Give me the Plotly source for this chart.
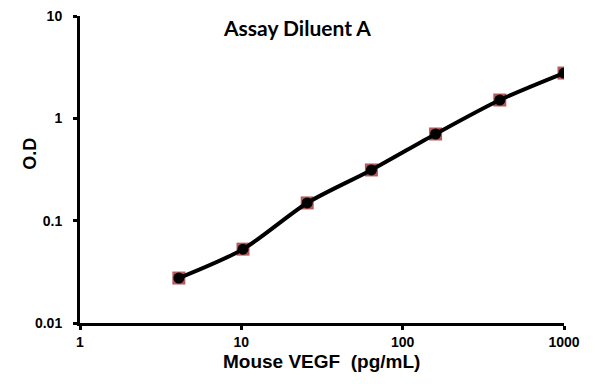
import plotly.graph_objects as go

conc = [4.1, 10.24, 25.6, 64, 160, 400, 1000]
od = [0.0275, 0.0527, 0.149, 0.313, 0.703, 1.51, 2.77]
x_ticks = [1, 10, 100, 1000]
y_ticks = [0.01, 0.1, 1, 10]

fig = go.Figure()
fig.add_trace(go.Scatter(x=conc, y=od, mode="markers",
                         marker=dict(symbol="square", size=13, color="#b55a5a",
                                     line=dict(width=0)),
                         showlegend=False, hoverinfo="skip"))
fig.add_trace(go.Scatter(x=conc, y=od, mode="lines+markers",
                         line=dict(color="black", width=4, shape="spline", smoothing=0.8),
                         marker=dict(symbol="circle", size=11, color="black"),
                         showlegend=False))

axis_font = dict(family="Liberation Sans, Arial", size=14, color="black")
title_font = dict(family="Liberation Sans, Arial", size=19, color="black")
# the page body adds an 8px offset, so the figure is 8px smaller and margins shifted
fig.update_layout(
    width=587, height=376,
    margin=dict(l=72, r=31, t=8, b=61, autoexpand=False),
    paper_bgcolor="white", plot_bgcolor="white",
    xaxis=dict(type="log", range=[0, 3], tickvals=x_ticks, ticktext=[f"<b>{v}</b>" for v in x_ticks],
               showgrid=False, zeroline=False, showline=True, linecolor="black", linewidth=3,
               ticks="outside", ticklen=4, tickwidth=3, tickcolor="black", tickfont=axis_font,
               ticklabeloverflow="allow", automargin=False),
    yaxis=dict(type="log", range=[-2, 1], tickvals=y_ticks, ticktext=[f"<b>{v}</b>" for v in y_ticks],
               showgrid=False, zeroline=False, showline=True, linecolor="black", linewidth=3,
               ticks="outside", ticklen=4, tickwidth=3, tickcolor="black", tickfont=axis_font,
               ticklabelstandoff=8, ticklabeloverflow="allow", automargin=False),
    annotations=[
        dict(text="<b>Assay Diluent A</b>", x=0.449, y=0.961, xref="paper", yref="paper",
             xanchor="center", yanchor="middle", showarrow=False,
             font=dict(family="Lato, Carlito, sans-serif", size=21, color="black")),
        dict(text="<b>Mouse VEGF&nbsp; (pg/mL)</b>", x=0.498, y=-0.127, xref="paper", yref="paper",
             xanchor="center", yanchor="middle", showarrow=False, font=title_font),
        dict(text="<b>O.D</b>", x=-0.105, y=0.552, xref="paper", yref="paper", textangle=-90,
             xanchor="center", yanchor="middle", showarrow=False, font=dict(family="Liberation Sans, Arial", size=18, color="black")),
    ],
)
fig.write_html("out.html")
